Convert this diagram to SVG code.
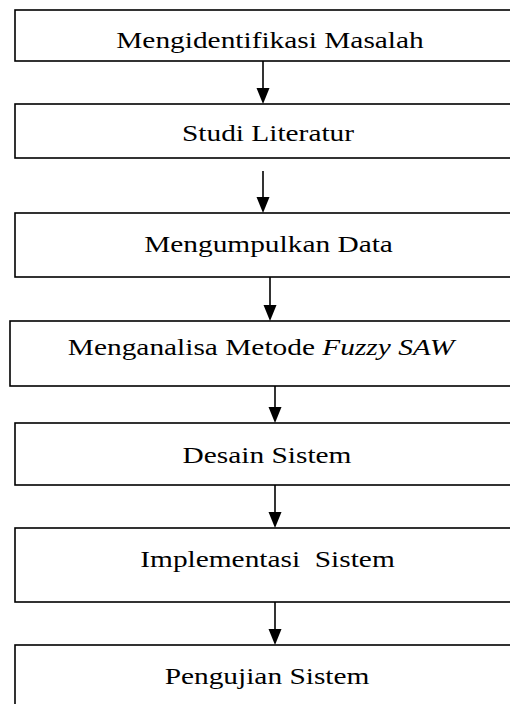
<svg xmlns="http://www.w3.org/2000/svg" width="510" height="704" viewBox="0 0 510 704">
<style>
.box{fill:#fff;stroke:#000;stroke-width:1.6}
.lbl{font-family:'Liberation Serif','Times New Roman',Tinos,'DejaVu Serif',serif;font-size:23.5px;fill:#000;text-anchor:middle;white-space:pre}
.conn line{stroke:#000;stroke-width:1.6}
</style>
<rect width="510" height="704" fill="#fff"/>
<g id="n1"><rect class="box" x="15" y="10" width="510" height="51"/><text class="lbl" font-family="Liberation Serif" transform="translate(270,48) scale(1.25,1)">Mengidentifikasi Masalah</text></g>
<g id="n2"><rect class="box" x="15" y="104" width="510" height="54"/><text class="lbl" font-family="Liberation Serif" transform="translate(268,141) scale(1.25,1)">Studi Literatur</text></g>
<g id="n3"><rect class="box" x="15" y="213" width="510" height="64"/><text class="lbl" font-family="Liberation Serif" transform="translate(268.5,252) scale(1.25,1)">Mengumpulkan Data</text></g>
<g id="n4"><rect class="box" x="10" y="321" width="510" height="65"/><text class="lbl" font-family="Liberation Serif" transform="translate(261,355) scale(1.25,1)">Menganalisa Metode <tspan font-style="italic">Fuzzy SAW</tspan></text></g>
<g id="n5"><rect class="box" x="15" y="423" width="510" height="62"/><text class="lbl" font-family="Liberation Serif" transform="translate(267,463) scale(1.25,1)">Desain Sistem</text></g>
<g id="n6"><rect class="box" x="15" y="528" width="510" height="74"/><text class="lbl" font-family="Liberation Serif" transform="translate(267.5,567) scale(1.25,1)">Implementasi  Sistem</text></g>
<g id="n7"><rect class="box" x="15" y="645" width="510" height="80"/><text class="lbl" font-family="Liberation Serif" transform="translate(267,684) scale(1.25,1)">Pengujian Sistem</text></g>
<g id="connectors" class="conn">
<line x1="263" y1="61" x2="263" y2="90"/><path d="M256.5,88 L269.5,88 L263,104 Z"/>
<line x1="263" y1="171" x2="263" y2="199"/><path d="M256.5,197 L269.5,197 L263,213 Z"/>
<line x1="270" y1="277" x2="270" y2="307"/><path d="M263.5,305 L276.5,305 L270,321 Z"/>
<line x1="275" y1="386" x2="275" y2="409"/><path d="M268.5,407 L281.5,407 L275,423 Z"/>
<line x1="275" y1="485" x2="275" y2="514"/><path d="M268.5,512 L281.5,512 L275,528 Z"/>
<line x1="275" y1="602" x2="275" y2="631"/><path d="M268.5,629 L281.5,629 L275,645 Z"/>
</g>
</svg>
